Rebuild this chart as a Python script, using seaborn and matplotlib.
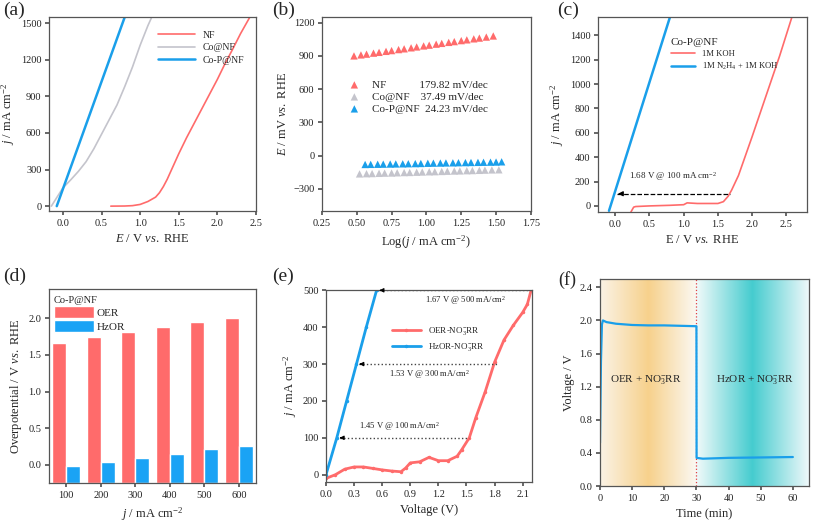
import numpy as np
import pandas as pd
import matplotlib
matplotlib.use("Agg")
import matplotlib.pyplot as plt
import seaborn as sns
from matplotlib.colors import LinearSegmentedColormap
from matplotlib.patches import Patch

# ---- data ----
# (a) LSV curves
nf_E = [0.62, 0.8, 0.9, 1.0, 1.1, 1.2, 1.25, 1.3, 1.35, 1.4, 1.45, 1.5, 1.6, 1.7, 1.8,
        1.9, 2.0, 2.1, 2.2, 2.3, 2.42]
nf_j = [0, 1, 4, 14, 38, 74, 110, 160, 220, 290, 360, 430, 560, 680, 800,
        920, 1040, 1170, 1290, 1415, 1550]
co_E = [-0.15, 0.0, 0.1, 0.2, 0.3, 0.4, 0.5, 0.6, 0.7, 0.8, 0.9, 1.0, 1.1, 1.15]
co_j = [0, 150, 215, 285, 365, 470, 590, 710, 830, 980, 1140, 1320, 1480, 1550]
cop_E = [-0.08, 0.8]
cop_j = [0, 1550]

# (b) Tafel plots
nf_logj = [0.48, 0.53, 0.57, 0.62, 0.66, 0.71, 0.75, 0.80, 0.84, 0.89, 0.93, 0.98,
           1.02, 1.07, 1.11, 1.16, 1.20, 1.25, 1.29, 1.34, 1.38, 1.43, 1.48]
nf_tafel = [900, 909, 916, 925, 932, 941, 948, 957, 964, 973, 981, 990,
            997, 1006, 1013, 1022, 1029, 1038, 1045, 1054, 1061, 1070, 1080]
co_logj = [0.52, 0.57, 0.61, 0.66, 0.70, 0.75, 0.79, 0.84, 0.88, 0.93, 0.97, 1.02,
           1.06, 1.11, 1.15, 1.20, 1.24, 1.29, 1.33, 1.38, 1.42, 1.47, 1.52]
co_tafel = [-165, -163, -162, -160, -158, -157, -155, -153, -152, -150, -148, -146,
            -145, -143, -141, -139, -138, -136, -135, -133, -131, -129, -128]
cop_logj = [0.56, 0.60, 0.65, 0.69, 0.74, 0.78, 0.83, 0.87, 0.92, 0.96, 1.01, 1.05,
            1.10, 1.14, 1.19, 1.23, 1.28, 1.32, 1.37, 1.41, 1.46, 1.50, 1.54]
cop_tafel = [-80, -79, -78, -77, -76, -75, -74, -73, -72, -71, -69, -68,
             -67, -66, -65, -64, -63, -62, -61, -60, -59, -58, -56]
tafel_labels = ["NF            179.82 mV/dec", "Co@NF    37.49 mV/dec", "Co-P@NF  24.23 mV/dec"]

# (c) Co-P@NF in KOH vs N2H4
koh_E = [0.23, 0.27, 0.3, 0.5, 0.8, 1.0, 1.05, 1.2, 1.5, 1.58, 1.65, 1.7, 1.8, 2.0, 2.2, 2.4, 2.58]
koh_j = [-50, -10, -5, 0, 5, 10, 25, 20, 20, 35, 80, 130, 250, 570, 900, 1230, 1550]
hz_E = [-0.09, 0.8]
hz_j = [-40, 1550]

# (d) potentials at current densities
densities = ["100", "200", "300", "400", "500", "600"]
oer_v = [1.66, 1.74, 1.81, 1.88, 1.95, 2.01]
hzor_v = [-0.02, 0.04, 0.09, 0.15, 0.21, 0.26]
bar_base = -0.25  # bars rise from the bottom of the axis in the original

# (e) coupled systems
oer_no3_V = [0.0, 0.1, 0.2, 0.3, 0.4, 0.5, 0.6, 0.7, 0.8, 0.85, 0.9, 1.0, 1.1, 1.2, 1.3,
             1.4, 1.45, 1.53, 1.6, 1.7, 1.8, 1.9, 2.0, 2.1, 2.15, 2.19]
oer_no3_j = [-10, 0, 15, 21, 21, 17, 13, 10, 8, 18, 32, 35, 47, 38, 38,
             50, 68, 100, 155, 225, 305, 365, 405, 440, 462, 500]
hzor_no3_V = [0.0, 0.115, 0.22, 0.325, 0.43, 0.54]
hzor_no3_j = [0, 100, 200, 300, 400, 500]

# (f) chronopotentiometry
t_min = [0, 0.3, 0.6, 0.9, 2, 5, 10, 15, 20, 25, 30, 30.05, 32, 40, 50, 60]
volt = [0.52, 1.5, 1.95, 2.0, 1.98, 1.96, 1.945, 1.94, 1.94, 1.935, 1.93, 0.34, 0.33, 0.34, 0.345, 0.35]

red = "#FF6B6B"
blue = "#1A9FEA"
bar_blue = "#1AA3F5"
gray = "#C4C4CC"

sns.set_theme(style="ticks")
plt.rcParams["font.family"] = ["Liberation Serif", "DejaVu Serif"]
plt.rcParams["mathtext.fontset"] = "custom"
plt.rcParams["mathtext.rm"] = "Liberation Serif"
plt.rcParams["mathtext.it"] = "Liberation Serif:italic"
plt.rcParams["axes.edgecolor"] = "#555555"
plt.rcParams["axes.linewidth"] = 0.9
plt.rcParams["xtick.color"] = "#555555"
plt.rcParams["ytick.color"] = "#555555"
plt.rcParams["xtick.labelcolor"] = "#222222"
plt.rcParams["ytick.labelcolor"] = "#222222"
plt.rcParams["xtick.major.size"] = 3
plt.rcParams["ytick.major.size"] = 3
plt.rcParams["xtick.major.pad"] = 2.5
plt.rcParams["ytick.major.pad"] = 2.5
plt.rcParams["xtick.labelsize"] = 7.5
plt.rcParams["ytick.labelsize"] = 7.5
plt.rcParams["axes.labelsize"] = 9
plt.rcParams["legend.fontsize"] = 7

fig = plt.figure(figsize=(8.13, 5.24), dpi=100)
ax_a = fig.add_axes([0.0603, 0.5973, 0.2546, 0.370])
ax_b = fig.add_axes([0.396, 0.5973, 0.257, 0.370])
ax_c = fig.add_axes([0.7356, 0.5954, 0.257, 0.372])
ax_d = fig.add_axes([0.0603, 0.0782, 0.2546, 0.370])
ax_e = fig.add_axes([0.401, 0.080, 0.2534, 0.366])
ax_f = fig.add_axes([0.738, 0.0725, 0.257, 0.395])

# ---- (a) ----
sns.lineplot(x=nf_E, y=nf_j, ax=ax_a, color=red, lw=1.2, sort=False, label="NF")
sns.lineplot(x=co_E, y=co_j, ax=ax_a, color=gray, lw=1.2, sort=False, label="Co@NF")
sns.lineplot(x=cop_E, y=cop_j, ax=ax_a, color=blue, lw=1.8, sort=False, label="Co-P@NF")
ax_a.set_xlim(-0.18, 2.5)
ax_a.set_ylim(-40, 1550)
ax_a.set_xticks([0.0, 0.5, 1.0, 1.5, 2.0, 2.5])
ax_a.set_yticks([0, 300, 600, 900, 1200, 1500])
ax_a.set_xlabel(r"$E$ / V $vs.$ RHE")
ax_a.set_ylabel(r"$j$ / mA cm$^{-2}$", labelpad=3)
ax_a.legend(loc="upper right", bbox_to_anchor=(0.97, 0.96), frameon=False,
            handlelength=3.8, labelspacing=0.35, borderaxespad=0.2)

# ---- (b) ----
sns.scatterplot(x=nf_logj, y=nf_tafel, ax=ax_b, color=red, marker="^", s=28,
                edgecolor="none", label=tafel_labels[0])
sns.scatterplot(x=co_logj, y=co_tafel, ax=ax_b, color=gray, marker="^", s=28,
                edgecolor="none", label=tafel_labels[1])
sns.scatterplot(x=cop_logj, y=cop_tafel, ax=ax_b, color=blue, marker="^", s=28,
                edgecolor="none", label=tafel_labels[2])
ax_b.set_xlim(0.25, 1.75)
ax_b.set_ylim(-500, 1250)
ax_b.set_xticks([0.25, 0.5, 0.75, 1.0, 1.25, 1.5, 1.75])
ax_b.set_yticks([-300, 0, 300, 600, 900, 1200])
ax_b.set_xlabel(r"Log($j$ / mA cm$^{-2}$)")
ax_b.set_ylabel(r"$E$ / mV $vs.$ RHE", labelpad=3)
ax_b.legend(loc="upper left", bbox_to_anchor=(0.07, 0.71), frameon=False, fontsize=8,
            handletextpad=0.6, labelspacing=0.2, borderaxespad=0.2)

# ---- (c) ----
sns.lineplot(x=koh_E, y=koh_j, ax=ax_c, color=red, lw=1.2, sort=False, label="1M KOH")
sns.lineplot(x=hz_E, y=hz_j, ax=ax_c, color=blue, lw=1.8, sort=False,
             label=r"1M N$_2$H$_4$ + 1M KOH")
ax_c.plot([0.03, 1.68], [100, 100], ls="--", color="black", lw=0.9)
ax_c.annotate("", xy=(0.0, 100), xytext=(0.12, 100),
              arrowprops=dict(arrowstyle="-|>", color="black", lw=0.9, mutation_scale=7))
ax_c.text(0.85, 190, r"1.68 V @ 100 mA cm$^{-2}$", fontsize=6.5, ha="center", va="bottom")
ax_c.set_xlim(-0.25, 2.8)
ax_c.set_ylim(-50, 1550)
ax_c.set_xticks([0.0, 0.5, 1.0, 1.5, 2.0, 2.5])
ax_c.set_yticks([0, 200, 400, 600, 800, 1000, 1200, 1400])
ax_c.set_xlabel(r"E / V $vs.$ RHE")
ax_c.set_ylabel(r"$j$ / mA cm$^{-2}$", labelpad=3)
leg = ax_c.legend(loc="upper left", bbox_to_anchor=(0.31, 0.93), frameon=False,
                  title="Co-P@NF", alignment="left", fontsize=6.2,
                  handlelength=2.8, labelspacing=0.3)
leg.get_title().set_fontsize(8)

# ---- (d) ----
df_d = pd.DataFrame({
    "density": densities * 2,
    "value": oer_v + hzor_v,
    "type": ["OER"] * len(densities) + ["HzOR"] * len(densities),
})
df_d["height"] = df_d["value"] - bar_base
sns.barplot(data=df_d, x="density", y="height", hue="type", ax=ax_d, bottom=bar_base,
            palette={"OER": red, "HzOR": bar_blue}, width=0.8, saturation=1, legend=False)
ax_d.set_ylim(-0.25, 2.4)
ax_d.set_xlim(-0.5, 5.5)
ax_d.set_yticks([0.0, 0.5, 1.0, 1.5, 2.0])
ax_d.set_xlabel(r"$j$ / mA cm$^{-2}$")
ax_d.set_ylabel(r"Overpotential / V $vs.$ RHE", labelpad=3)
handles = [Patch(facecolor=red, label="OER"), Patch(facecolor=bar_blue, label="HzOR")]
leg = ax_d.legend(handles=handles, loc="upper left", bbox_to_anchor=(-0.01, 1.0), frameon=False,
                  title="Co-P@NF", alignment="left", fontsize=8, handlelength=3.6,
                  handleheight=1.25, labelspacing=0.15, handletextpad=0.3, borderaxespad=0.2)
leg.get_title().set_fontsize(7.5)

# ---- (e) ----
sns.lineplot(x=oer_no3_V, y=oer_no3_j, ax=ax_e, color=red, lw=2.0, sort=False,
             marker="o", markersize=2.5, markeredgewidth=0, label=r"OER-NO$_3^{-}$RR")
sns.lineplot(x=hzor_no3_V, y=hzor_no3_j, ax=ax_e, color=blue, lw=2.0, sort=False,
             marker="o", markersize=2.5, markeredgewidth=0, label=r"HzOR-NO$_3^{-}$RR")
for yv, x_red, x_blue in [(100, 1.53, 0.115), (300, 1.83, 0.325), (500, 2.19, 0.54)]:
    ax_e.plot([x_blue + 0.03, x_red], [yv, yv], ls=":", color="#444444", lw=1.0)
    ax_e.annotate("", xy=(x_blue, yv), xytext=(x_blue + 0.08, yv),
                  arrowprops=dict(arrowstyle="-|>", color="black", lw=0.8, mutation_scale=6))
ax_e.text(0.35, 112, r"1.45 V @ 100 mA/cm$^2$", fontsize=6.2, ha="left", va="bottom")
ax_e.text(0.67, 288, r"1.53 V @ 300 mA/cm$^2$", fontsize=6.2, ha="left", va="top")
ax_e.text(1.06, 490, r"1.67 V @ 500 mA/cm$^2$", fontsize=6.2, ha="left", va="top")
ax_e.set_xlim(0.0, 2.2)
ax_e.set_ylim(-20, 500)
ax_e.set_xticks([0.0, 0.3, 0.6, 0.9, 1.2, 1.5, 1.8, 2.1])
ax_e.set_yticks([0, 100, 200, 300, 400, 500])
ax_e.set_xlabel("Voltage (V)")
ax_e.set_ylabel(r"$j$ / mA cm$^{-2}$", labelpad=3)
ax_e.legend(loc="upper left", bbox_to_anchor=(0.28, 0.86), frameon=False, fontsize=6.5,
            handlelength=3.2, labelspacing=0.45)

# ---- (f) ----
orange_cmap = LinearSegmentedColormap.from_list(
    "og", [(0.0, "#FBF3E6"), (0.5, "#F7D18C"), (1.0, "#FBF9F4")])
cyan_cmap = LinearSegmentedColormap.from_list(
    "cy", [(0.0, "#F2FAFA"), (0.5, "#45CCCF"), (1.0, "#EEF8FA")])
grad = np.linspace(0, 1, 256).reshape(1, -1)
ax_f.imshow(grad, cmap=orange_cmap, extent=[0, 30, 0, 2.5], aspect="auto", zorder=0)
ax_f.imshow(grad, cmap=cyan_cmap, extent=[30, 65, 0, 2.5], aspect="auto", zorder=0)
ax_f.axvline(30, color="#E04040", ls=":", lw=0.9)
sns.lineplot(x=t_min, y=volt, ax=ax_f, color=blue, lw=1.6, sort=False)
ax_f.text(3.0, 1.28, r"OER + NO$_3^{-}$RR", fontsize=8, va="center")
ax_f.text(36.0, 1.28, r"HzOR + NO$_3^{-}$RR", fontsize=8, va="center")
ax_f.set_xlim(0, 65)
ax_f.set_ylim(0, 2.5)
ax_f.set_xticks([0, 10, 20, 30, 40, 50, 60])
ax_f.set_yticks([0.0, 0.4, 0.8, 1.2, 1.6, 2.0, 2.4])
ax_f.set_xlabel("Time (min)")
ax_f.set_ylabel("Voltage / V", labelpad=3)

# panel letters
for label, (px, py) in zip(["(a)", "(b)", "(c)", "(d)", "(e)", "(f)"],
                           [(3, 2), (272, 2), (557, 2), (3, 268), (272, 268), (558, 271)]):
    fig.text(px / 813, 1 - py / 524, label, fontsize=14 if label != "(f)" else 13,
             ha="left", va="top")

fig.savefig("out.png", dpi=100)
